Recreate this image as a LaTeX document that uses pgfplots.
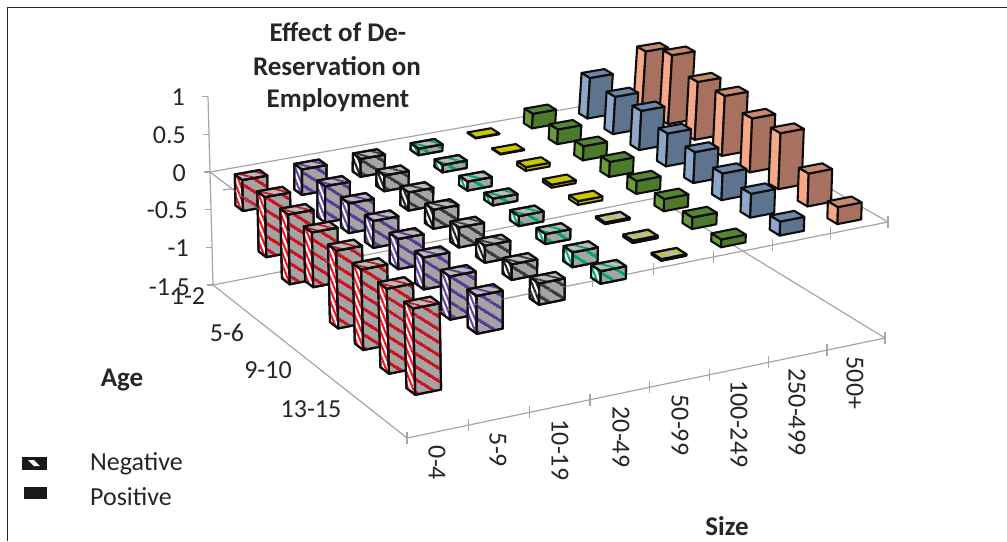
\documentclass[border=0pt]{standalone}
\usepackage{pgfplots}
\usepackage{pgfplotstable}
\usepackage{xfp}
\usepackage{fontspec}
\setmainfont{Carlito}
\pgfplotsset{compat=1.18}
\usetikzlibrary{patterns.meta}

% age rows, size columns
\pgfplotstableread{
s0 s1 s2 s3 s4 s5 s6 s7
-0.41 -0.34 -0.24 -0.09 0.01 0.20 0.56 0.80
-0.79 -0.48 -0.21 -0.10 0.01 0.20 0.51 0.95
-0.91 -0.39 -0.24 -0.12 0.05 0.19 0.53 0.79
-0.71 -0.35 -0.25 -0.09 0.04 0.20 0.44 0.81
-1.00 -0.39 -0.26 -0.13 0.05 0.17 0.41 0.72
-1.03 -0.41 -0.22 -0.13 -0.02 0.16 0.35 0.74
-1.08 -0.55 -0.20 -0.19 -0.03 0.15 0.31 0.43
-1.09 -0.48 -0.27 -0.16 -0.02 0.10 0.18 0.22
}\barTable

% perspective of the chart: plane value=0 and plane value=-1.5
\def\makeH#1#2#3#4#5#6#7#8#9{%
 \edef\dxa{\fpeval{#4-(#6)}}\edef\dxb{\fpeval{#8-(#6)}}\edef\sxx{\fpeval{#2-(#4)+#6-(#8)}}%
 \edef\dya{\fpeval{#5-(#7)}}\edef\dyb{\fpeval{#9-(#7)}}\edef\syy{\fpeval{#3-(#5)+#7-(#9)}}%
 \edef\den{\fpeval{\dxa*\dyb-\dxb*\dya}}%
 \edef\gg{\fpeval{(\sxx*\dyb-\dxb*\syy)/\den}}%
 \edef\hh{\fpeval{(\dxa*\syy-\sxx*\dya)/\den}}%
 \expandafter\edef\csname #1g\endcsname{\gg}%
 \expandafter\edef\csname #1h\endcsname{\hh}%
 \expandafter\edef\csname #1a\endcsname{\fpeval{#4-#2+\gg*#4}}%
 \expandafter\edef\csname #1b\endcsname{\fpeval{#8-#2+\hh*#8}}%
 \expandafter\edef\csname #1c\endcsname{#2}%
 \expandafter\edef\csname #1d\endcsname{\fpeval{#5-#3+\gg*#5}}%
 \expandafter\edef\csname #1e\endcsname{\fpeval{#9-#3+\hh*#9}}%
 \expandafter\edef\csname #1f\endcsname{#3}%
}
\makeH{Z}{210}{172}{663}{92}{888}{222}{403}{319}
\makeH{F}{213}{285}{656}{198}{885}{338}{407}{438}
\def\XX#1#2#3{((\Za*(#1)+\Zb*(#2)+\Zc)/(\Zg*(#1)+\Zh*(#2)+1)+(-(#3)/1.5)*((\Fa*(#1)+\Fb*(#2)+\Fc)/(\Fg*(#1)+\Fh*(#2)+1)-(\Za*(#1)+\Zb*(#2)+\Zc)/(\Zg*(#1)+\Zh*(#2)+1)))}
\def\YY#1#2#3{((\Zd*(#1)+\Ze*(#2)+\Zf)/(\Zg*(#1)+\Zh*(#2)+1)+(-(#3)/1.5)*((\Fd*(#1)+\Fe*(#2)+\Ff)/(\Fg*(#1)+\Fh*(#2)+1)-(\Zd*(#1)+\Ze*(#2)+\Zf)/(\Zg*(#1)+\Zh*(#2)+1)))}
\def\pp#1#2#3{(\fpeval{round(\XX{#1}{#2}{#3},2)},\fpeval{round(\YY{#1}{#2}{#3},2)})}
\def\ppo#1#2#3#4#5{(\fpeval{round(\XX{#1}{#2}{#3}+(#4),2)},\fpeval{round(\YY{#1}{#2}{#3}+(#5),2)})}

\definecolor{axgray}{HTML}{A6A6A6}
\definecolor{txt}{HTML}{262626}
\definecolor{bargray}{HTML}{A4A4A4}
\definecolor{barblack}{HTML}{0D0D0D}
\definecolor{n0}{HTML}{C8141E}\definecolor{m0}{HTML}{FF1020}
\definecolor{n1}{HTML}{5B3A93}\definecolor{m1}{HTML}{6A45A8}
\definecolor{n2}{HTML}{3A3A3A}\definecolor{m2}{HTML}{222222}
\definecolor{n3}{HTML}{00A56B}\definecolor{m3}{HTML}{00B070}
\definecolor{n4}{HTML}{C8C800}\definecolor{m4}{HTML}{D0D000}
\definecolor{n5}{HTML}{4C7A2A}\definecolor{m5}{HTML}{4C7A2A}
\definecolor{n6}{HTML}{5E748E}\definecolor{m6}{HTML}{5E748E}
\definecolor{n7}{HTML}{A8705E}\definecolor{m7}{HTML}{A8705E}
\definecolor{pL4}{HTML}{E8E200}\definecolor{pF4}{HTML}{BDB800}\definecolor{pT4}{HTML}{CCC800}
\definecolor{pL5}{HTML}{6B9A3A}\definecolor{pF5}{HTML}{4C7A2A}\definecolor{pT5}{HTML}{568535}
\definecolor{pL6}{HTML}{8EA6C8}\definecolor{pF6}{HTML}{5E748E}\definecolor{pT6}{HTML}{6E86A8}
\definecolor{pL7}{HTML}{F5A888}\definecolor{pF7}{HTML}{A8705E}\definecolor{pT7}{HTML}{C88A72}
\colorlet{pL0}{pL4}\colorlet{pF0}{pF4}\colorlet{pT0}{pT4}
\colorlet{pL1}{pL4}\colorlet{pF1}{pF4}\colorlet{pT1}{pT4}
\colorlet{pL2}{pL4}\colorlet{pF2}{pF4}\colorlet{pT2}{pT4}
\colorlet{pL3}{pL4}\colorlet{pF3}{pF4}\colorlet{pT3}{pT4}

\tikzset{
 edge/.style={draw=barblack,line width=2.1pt,line join=round},
 negF/.style={preaction={fill=bargray},edge,pattern={Lines[angle=-32,distance=10.5pt,line width=3.4pt]},pattern color=#1},
 negL/.style={preaction={fill=white},edge,pattern={Lines[angle=-68,distance=4.4pt,line width=2.1pt]},pattern color=#1},
 negT/.style={preaction={fill=bargray!75!white},edge,pattern={Lines[angle=-14,distance=6pt,line width=1.8pt]},pattern color=#1},
 posS/.style={fill=#1,edge},
 gline/.style={draw=axgray,line width=1.2pt},
 lab/.style={text=txt,font=\fontsize{26}{30}\selectfont,inner sep=0pt},
 blab/.style={text=txt,font=\fontsize{27}{31}\selectfont\bfseries,inner sep=0pt},
}

\newcommand\drawbar[3]{%
 \edef\ua{\fpeval{(#1+0.5)/8-0.026}}\edef\ub{\fpeval{(#1+0.5)/8+0.026}}%
 \edef\va{\fpeval{(#2+0.5)/8-0.021}}\edef\vb{\fpeval{(#2+0.5)/8+0.021}}%
 \ifdim#3pt<0pt
   \edef\zt{0}\edef\zb{#3}%
   \edef\sL{negL=m#1}\edef\sF{negF=n#1}\edef\sT{negT=n#1}%
 \else
   \edef\zt{#3}\edef\zb{0}%
   \edef\sL{posS=pL#1}\edef\sF{posS=pF#1}\edef\sT{posS=pT#1}%
 \fi
 \edef\tmp{\noexpand\addplot[\sL] coordinates {\pp{\ua}{\va}{\zt} \pp{\ua}{\vb}{\zt} \pp{\ua}{\vb}{\zb} \pp{\ua}{\va}{\zb}} --cycle;
  \noexpand\addplot[\sF] coordinates {\pp{\ua}{\vb}{\zt} \pp{\ub}{\vb}{\zt} \pp{\ub}{\vb}{\zb} \pp{\ua}{\vb}{\zb}} --cycle;
  \noexpand\addplot[\sT] coordinates {\pp{\ua}{\va}{\zt} \pp{\ub}{\va}{\zt} \pp{\ub}{\vb}{\zt} \pp{\ua}{\vb}{\zt}} --cycle;}%
 \tmp
}
\newcommand\seg[3]{\edef\tmp{\noexpand\addplot[#3] coordinates {#1 #2};}\tmp}

\begin{document}
\begin{tikzpicture}[x=1pt,y=1pt]
\useasboundingbox (0,0) rectangle (1007pt,541pt);
\begin{axis}[
  at={(0,0)},anchor=south west,scale only axis,
  width=1007pt,height=541pt,
  xmin=0,xmax=1007,ymin=0,ymax=541,y dir=reverse,
  axis lines=none,clip=false,no markers,
  every axis plot/.append style={forget plot},
]
% frame
\addplot[draw=black!85,line width=1.4pt] coordinates {(7.5,541) (7.5,7.5) (1007,7.5)};
% planes
\seg{\pp{0}{0}{0}}{\pp{1}{0}{0}}{gline}
\seg{\pp{1}{0}{0}}{\pp{1}{1}{0}}{gline}
\seg{\pp{1}{1}{0}}{\pp{0}{1}{0}}{gline}
\seg{\pp{0}{1}{0}}{\pp{0}{0}{0}}{gline}
\seg{\pp{0}{0}{-1.5}}{\pp{1}{0}{-1.5}}{gline}
\seg{\pp{1}{0}{-1.5}}{\pp{1}{1}{-1.5}}{gline}
\seg{\pp{1}{1}{-1.5}}{\pp{0}{1}{-1.5}}{gline}
\seg{\pp{0}{1}{-1.5}}{\pp{0}{0}{-1.5}}{gline}
% value axis
\seg{\pp{0}{0}{1}}{\pp{0}{0}{-1.5}}{gline}
\foreach \z in {1,0.5,0,-0.5,-1,-1.5}{
  \seg{\ppo{0}{0}{\z}{-6}{0}}{\pp{0}{0}{\z}}{gline}
}
% size ticks
\foreach \k in {0,...,8}{
  \seg{\ppo{\k/8}{1}{-1.5}{0}{-6}}{\ppo{\k/8}{1}{-1.5}{0}{6}}{gline}
  \seg{\ppo{\k/8}{1}{0}{0}{-6}}{\ppo{\k/8}{1}{0}{0}{6}}{gline}
}
% age ticks
\foreach \k in {1,...,8}{
  \seg{\ppo{0}{\k/8}{0}{-9}{1}}{\ppo{0}{\k/8}{0}{9}{-1}}{gline}
}
% bars, far ones first
\foreach \i in {7,6,...,0}{
  \foreach \j in {0,...,7}{
    \pgfplotstablegetelem{\j}{s\i}\of\barTable
    \edef\vv{\pgfplotsretval}
    \drawbar{\i}{\j}{\vv}
  }
}
% edges that show through the bars
\seg{\pp{0}{1}{0}}{\pp{0}{0}{0}}{gline,opacity=0.4}
\seg{\pp{0}{1}{0}}{\pp{0.35}{1}{0}}{gline,opacity=0.4}

% legend keys
\addplot[fill=black!90,draw=black!90,line width=0.5pt] coordinates {(22,457) (46,457) (46,469) (22,469)} --cycle;
\addplot[fill=white,draw=none] coordinates {(28,460) (34,460) (40,466) (34,466)} --cycle;
\addplot[fill=black!90,draw=black!90,line width=0.5pt] coordinates {(24,487) (46,487) (46,498) (24,498)} --cycle;

\node[lab,anchor=east] at (axis cs:185,97) {1};
\node[lab,anchor=east] at (axis cs:186,135) {0.5};
\node[lab,anchor=east] at (axis cs:186,173) {0};
\node[lab,anchor=east] at (axis cs:188,210) {-0.5};
\node[lab,anchor=east] at (axis cs:189,248) {-1};
\node[lab,anchor=east] at (axis cs:190,287) {-1.5};
\node[lab] at (axis cs:188,296) {1-2};
\node[lab] at (axis cs:227,333) {5-6};
\node[lab] at (axis cs:268,370) {9-10};
\node[lab] at (axis cs:311,409) {13-15};
\node[lab,rotate=-90] at (axis cs:437,463) {0-4};
\node[lab,rotate=-90] at (axis cs:498,450) {5-9};
\node[lab,rotate=-90] at (axis cs:560,450) {10-19};
\node[lab,rotate=-90] at (axis cs:621,437) {20-49};
\node[lab,rotate=-90] at (axis cs:680,425) {50-99};
\node[lab,rotate=-90] at (axis cs:739,424) {100-249};
\node[lab,rotate=-90] at (axis cs:797,412) {250-499};
\node[lab,rotate=-90] at (axis cs:855,383) {500+};
\node[lab,anchor=west] at (axis cs:90,464) {Negative};
\node[lab,anchor=west] at (axis cs:90,497) {Positive};
\node[blab] at (axis cs:122,380) {Age};
\node[blab] at (axis cs:727,526) {Size};
\node[blab] at (axis cs:338,32) {Effect of De-};
\node[blab] at (axis cs:337,66) {Reservation on};
\node[blab] at (axis cs:338,100) {Employment};
\end{axis}
\end{tikzpicture}
\end{document}
